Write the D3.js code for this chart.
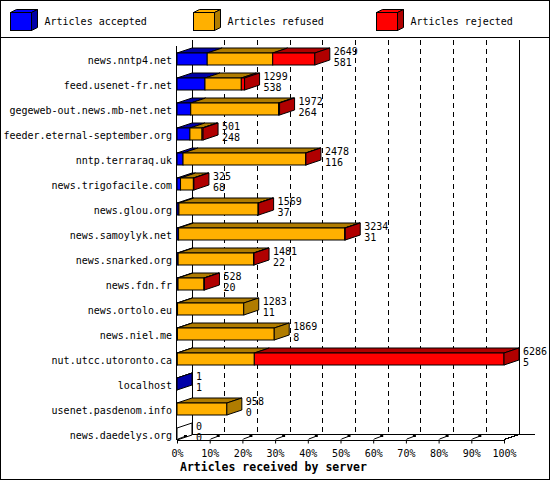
<!DOCTYPE html>
<html>
<head>
<meta charset="utf-8">
<script src="https://cdn.jsdelivr.net/npm/d3@7"></script>
<style>
  body { margin: 0; background: #fff; }
  text { font-family: "DejaVu Sans Mono", "Liberation Mono", monospace; font-size: 10px; fill: #000; }
</style>
</head>
<body>
<svg id="chart" width="550" height="480"></svg>
<script>
// servers, top to bottom
const servers = [
  "news.nntp4.net", "feed.usenet-fr.net", "gegeweb-out.news.mb-net.net",
  "feeder.eternal-september.org", "nntp.terraraq.uk", "news.trigofacile.com",
  "news.glou.org", "news.samoylyk.net", "news.snarked.org", "news.fdn.fr",
  "news.ortolo.eu", "news.niel.me", "nut.utcc.utoronto.ca", "localhost",
  "usenet.pasdenom.info", "news.daedelys.org"
];
// offered = total articles received (top label)
const offered  = [2649, 1299, 1972, 501, 2478, 325, 1569, 3234, 1481, 528, 1283, 1869, 6286, 1, 958, 0];
const accepted = [581, 538, 264, 248, 116, 68, 37, 31, 22, 20, 11, 8, 5, 1, 0, 0];
const refused  = [1259, 698, 1688, 233, 2357, 247, 1522, 3193, 1449, 498, 1272, 1861, 1481, 0, 958, 0];
const rejected = [809, 63, 20, 20, 5, 10, 10, 10, 10, 10, 0, 0, 4800, 0, 0, 0];

const keys = ["accepted", "refused", "rejected"];
const legendLabels = ["Articles accepted", "Articles refused", "Articles rejected"];
const xTicks = [0, 10, 20, 30, 40, 50, 60, 70, 80, 90, 100];

const front = { accepted: "#0000ff", refused: "#ffb000", rejected: "#ff0000" };
const dark  = { accepted: "#0000a8", refused: "#b07c00", rejected: "#b00000" };

const svg = d3.select("#chart");
const DX = 15, DY = 5, HH = 6;   // 3d depth and half bar height

svg.append("rect")
  .attr("x", 0.5).attr("y", 0.5).attr("width", 549).attr("height", 479)
  .attr("fill", "#fff").attr("stroke", "#000");
svg.append("line")
  .attr("x1", 0).attr("x2", 550).attr("y1", 37.5).attr("y2", 37.5)
  .attr("stroke", "#000");

// legend
const leg = svg.append("g").selectAll("g").data(keys).enter().append("g")
  .attr("transform", (d, i) => `translate(${10.5 + i * 183},12.5)`);
leg.append("polygon")
  .attr("points", "0,0 6,-3 27,-3 21,0")
  .attr("fill", d => front[d]).attr("stroke", "#000");
leg.append("polygon")
  .attr("points", "21,0 27,-3 27,15 21,18")
  .attr("fill", d => dark[d]).attr("stroke", "#000");
leg.append("rect")
  .attr("width", 21).attr("height", 18)
  .attr("fill", d => front[d]).attr("stroke", "#000");
leg.append("text")
  .attr("x", 34).attr("y", 12)
  .text((d, i) => legendLabels[i]);

const rows = servers.map((s, i) => ({
  server: s, offered: offered[i],
  accepted: accepted[i], refused: refused[i], rejected: rejected[i]
}));
const maxOff = d3.max(offered);

const x = d3.scaleLinear().domain([0, 100]).range([177, 504]);
const y = d3.scalePoint().domain(servers).range([59, 434]);
const px = v => x(v / maxOff * 100);

// back walls, grid
const grid = svg.append("g").attr("shape-rendering", "crispEdges");
grid.selectAll("line.g").data(xTicks.slice(1, -1)).enter().append("line")
  .attr("x1", d => x(d) + DX).attr("x2", d => x(d) + DX)
  .attr("y1", 40).attr("y2", 434)
  .attr("stroke", "#000").attr("stroke-dasharray", "5,4");
grid.append("line").attr("x1", x(0) + DX + 0.5).attr("x2", x(0) + DX + 0.5)
  .attr("y1", 40).attr("y2", 434.5).attr("stroke", "#000");
grid.append("line").attr("x1", x(100) + DX + 0.5).attr("x2", x(100) + DX + 0.5)
  .attr("y1", 40).attr("y2", 434.5).attr("stroke", "#000");
grid.append("line").attr("x1", x(0) + DX).attr("x2", 535)
  .attr("y1", 434.5).attr("y2", 434.5).attr("stroke", "#000");
grid.append("line").attr("x1", x(0) - 0.5).attr("x2", x(0) - 0.5)
  .attr("y1", 46).attr("y2", 439.5).attr("stroke", "#000");
grid.append("line").attr("x1", x(0)).attr("y1", 439.5)
  .attr("x2", x(0) + DX).attr("y2", 434.5).attr("stroke", "#000");
grid.append("line").attr("x1", x(100)).attr("y1", 439.5)
  .attr("x2", x(100) + DX).attr("y2", 434.5).attr("stroke", "#000");

// bars
const stacked = d3.stack().keys(keys)(rows);
const bars = svg.append("g");
stacked.forEach(series => {
  const k = series.key;
  const segs = series.filter(d => d[1] > d[0]);
  const sg = bars.append("g");
  sg.selectAll("polygon").data(segs).enter().append("polygon")
    .attr("points", d => {
      const x0 = px(d[0]), x1 = px(d[1]), t = y(d.data.server) - HH;
      return `${x0},${t} ${x0 + DX},${t - DY} ${x1 + DX},${t - DY} ${x1},${t}`;
    })
    .attr("fill", dark[k]).attr("stroke", "#000");
  sg.selectAll("rect").data(segs).enter().append("rect")
    .attr("x", d => px(d[0]))
    .attr("y", d => y(d.data.server) - HH)
    .attr("width", d => px(d[1]) - px(d[0]))
    .attr("height", HH * 2)
    .attr("fill", front[k]).attr("stroke", "#000");
});

// side face, coloured like the last segment
bars.selectAll("polygon.side").data(rows).enter().append("polygon")
  .attr("class", "side")
  .attr("points", d => {
    const xe = px(d.accepted + d.refused + d.rejected), c = y(d.server);
    return `${xe},${c - HH} ${xe + DX},${c - HH - DY} ${xe + DX},${c + HH - DY} ${xe},${c + HH}`;
  })
  .attr("fill", d => {
    const last = keys.filter(k => d[k] > 0).pop();
    return last ? dark[last] : "#fff";
  })
  .attr("stroke", "#000");

// value labels
const vals = svg.append("g").selectAll("g").data(rows).enter().append("g")
  .attr("transform", d => `translate(${px(d.accepted + d.refused + d.rejected) + DX + 4},${y(d.server)})`);
vals.append("text").attr("y", -4).text(d => d.offered);
vals.append("text").attr("y", 7).text(d => d.accepted);

// axes
const xAxis = d3.axisBottom(x)
  .tickValues(xTicks)
  .tickFormat(d => d + "%")
  .tickSize(4)
  .tickSizeOuter(0)
  .tickPadding(6);
const xg = svg.append("g")
  .attr("transform", "translate(0,439.5)")
  .call(xAxis);
xg.selectAll("text").style("font-family", null).style("font-size", null)
  .attr("font-family", null).attr("font-size", null);
xg.attr("font-family", null).attr("font-size", null);
xg.select(".domain").attr("shape-rendering", "crispEdges");

// little 3d tick stubs on the floor
const stubs = svg.append("g");
xTicks.slice(0, -1).forEach(t => {
  stubs.append("line")
    .attr("x1", x(t) + 1).attr("y1", 439).attr("x2", x(t) + 9).attr("y2", 436)
    .attr("stroke", "#000");
  stubs.append("rect")
    .attr("x", x(t) + 7).attr("y", 435).attr("width", 3).attr("height", 2)
    .attr("fill", "#000");
});

const yAxis = d3.axisLeft(y).tickSize(0).tickPadding(5);
const yg = svg.append("g")
  .attr("transform", `translate(${x(0)},0)`)
  .call(yAxis);
yg.select(".domain").remove();
yg.attr("font-family", null).attr("font-size", null);
yg.selectAll("text").attr("dy", "0.4em");

svg.append("text")
  .attr("x", 180).attr("y", 471)
  .style("font-weight", "bold").style("font-size", "11.5px")
  .text("Articles received by server");
</script>
</body>
</html>
